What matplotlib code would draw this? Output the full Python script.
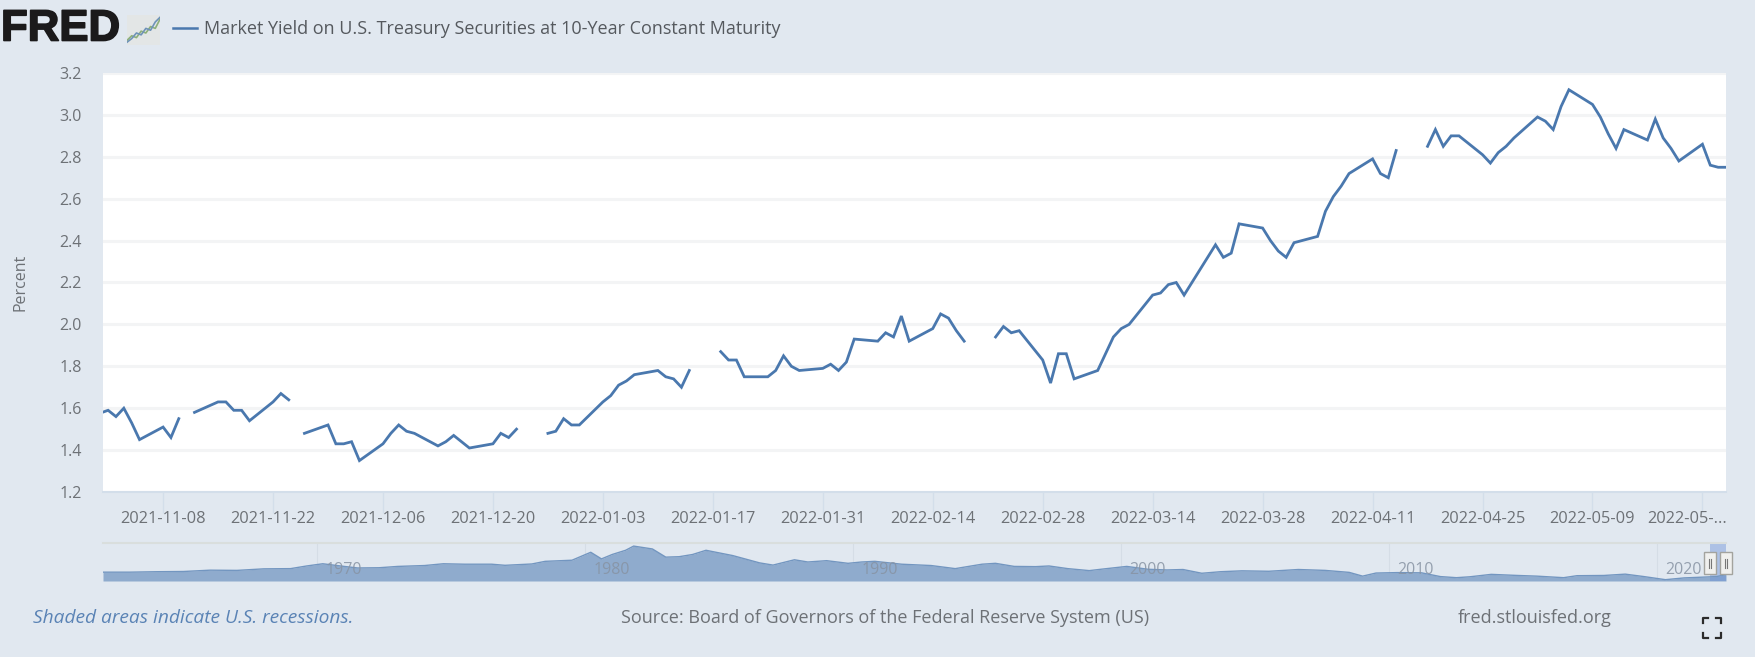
import numpy as np
import pandas as pd
import matplotlib.pyplot as plt
from matplotlib.patches import Rectangle
from matplotlib.lines import Line2D
from matplotlib.transforms import ScaledTranslation
import matplotlib.patheffects as pe

W, H = 1756, 657
nan = np.nan

# 10-year yield, one value per business day from 2021-10-29 to 2022-05-26, nan on market holidays
yields = [
    1.55,
    1.59, 1.56, 1.60, 1.53, 1.45,
    1.51, 1.46, 1.55, nan, 1.58,
    1.63, 1.63, 1.59, 1.59, 1.54,
    1.63, 1.67, 1.64, nan, 1.48,
    1.52, 1.43, 1.43, 1.44, 1.35,
    1.43, 1.48, 1.52, 1.49, 1.48,
    1.42, 1.44, 1.47, 1.44, 1.41,
    1.43, 1.48, 1.46, 1.50, nan,
    1.48, 1.49, 1.55, 1.52, 1.52,
    1.63, 1.66, 1.71, 1.73, 1.76,
    1.78, 1.75, 1.74, 1.70, 1.78,
    nan, 1.87, 1.83, 1.83, 1.75,
    1.75, 1.78, 1.85, 1.80, 1.78,
    1.79, 1.81, 1.78, 1.82, 1.93,
    1.92, 1.96, 1.94, 2.04, 1.92,
    1.98, 2.05, 2.03, 1.97, 1.92,
    nan, 1.94, 1.99, 1.96, 1.97,
    1.83, 1.72, 1.86, 1.86, 1.74,
    1.78, 1.86, 1.94, 1.98, 2.00,
    2.14, 2.15, 2.19, 2.20, 2.14,
    2.32, 2.38, 2.32, 2.34, 2.48,
    2.46, 2.40, 2.35, 2.32, 2.39,
    2.42, 2.54, 2.61, 2.66, 2.72,
    2.79, 2.72, 2.70, 2.83, nan,
    2.85, 2.93, 2.85, 2.90, 2.90,
    2.81, 2.77, 2.82, 2.85, 2.89,
    2.99, 2.97, 2.93, 3.04, 3.12,
    3.05, 2.99, 2.91, 2.84, 2.93,
    2.88, 2.98, 2.89, 2.84, 2.78,
    2.86, 2.76, 2.75, 2.75,
]
dates = pd.bdate_range("2021-10-29", "2022-05-26")

tick_dates = ["2021-11-08", "2021-11-22", "2021-12-06", "2021-12-20", "2022-01-03",
              "2022-01-17", "2022-01-31", "2022-02-14", "2022-02-28", "2022-03-14",
              "2022-03-28", "2022-04-11", "2022-04-25", "2022-05-09", "2022-05-23"]
tick_labels = tick_dates[:-1] + ["2022-05-..."]
y_ticks = [1.2, 1.4, 1.6, 1.8, 2.0, 2.2, 2.4, 2.6, 2.8, 3.0, 3.2]

# overview strip, whole history
hist_years = [1962, 1963, 1964, 1965, 1966, 1967, 1968, 1969, 1969.6, 1970.2, 1971, 1971.5, 1972.3,
              1973, 1974, 1974.7, 1975.5, 1976.5, 1977, 1978, 1978.5, 1979.5, 1980.2, 1980.6, 1981,
              1981.5, 1981.8, 1982.5, 1983, 1983.5, 1984, 1984.5, 1985.5, 1986.5, 1987, 1987.8,
              1988.3, 1989, 1989.8, 1990.3, 1990.8, 1991.8, 1992.9, 1993.8, 1994.8, 1995.3, 1996,
              1996.8, 1997.3, 1998, 1998.8, 1999.3, 2000.2, 2001, 2001.7, 2002.3, 2003, 2003.7,
              2004.5, 2005.5, 2006.6, 2007.6, 2008.5, 2009, 2009.5, 2010.3, 2011.2, 2011.9, 2012.5,
              2013, 2013.8, 2014.8, 2015.5, 2016.5, 2017, 2018, 2018.8, 2019.5, 2020.3, 2021, 2022.2, 2022.56]
hist_values = [4.0, 4.0, 4.2, 4.3, 4.9, 4.8, 5.5, 5.6, 6.8, 7.8, 6.6, 5.9, 6.0,
               6.6, 7.0, 7.8, 7.6, 7.6, 7.1, 7.7, 8.9, 9.4, 13.0, 10.0, 12.0,
               13.9, 15.8, 14.5, 10.8, 11.0, 12.0, 13.9, 11.5, 8.2, 7.2, 9.6,
               8.6, 9.2, 8.0, 8.6, 8.9, 7.6, 7.0, 5.6, 7.6, 8.0, 6.6,
               6.5, 6.8, 5.6, 4.7, 5.4, 6.6, 5.3, 5.0, 5.2, 3.5, 4.2,
               4.6, 4.4, 5.2, 4.8, 3.9, 2.2, 3.6, 3.8, 3.7, 2.0, 1.5,
               1.9, 3.0, 2.5, 2.2, 1.5, 2.4, 2.5, 3.1, 2.0, 0.6, 1.4, 2.0, 2.9]
decades = [1970, 1980, 1990, 2000, 2010, 2020]

# logo sparkline
logo_x = [0, 1, 2, 3, 4, 5, 6, 7]
logo_green = [1, 2, 1.6, 3, 2.6, 4, 3.6, 5.6]
logo_blue = [0.6, 1.4, 2.6, 2.2, 3.6, 3.2, 5, 6]

BG = "#e1e8f0"
BLUE = "#4a78ae"
TEXT = "#6d7176"
plt.rcParams["font.family"] = ["Open Sans", "DejaVu Sans"]


def fig_x(px):
    return px / W


def fig_y(py):
    return 1 - py / H


def box(left, top, right, bottom):
    return [fig_x(left), fig_y(bottom), (right - left) / W, (bottom - top) / H]


fig = plt.figure(figsize=(W / 100, H / 100), dpi=100, facecolor=BG)

# main chart
ax = fig.add_axes(box(103, 73, 1726, 492))
ax.plot(dates, yields, color=BLUE, lw=2, solid_joinstyle="miter")
ax.set_xlim(pd.Timestamp("2021-11-08") - pd.Timedelta(days=7.65), pd.Timestamp("2022-05-26"))
ax.set_ylim(1.2, 3.2)
ax.set_yticks(y_ticks)
ax.set_xticks(pd.to_datetime(tick_dates))
ax.set_xticklabels(tick_labels)
ax.grid(axis="y", color="#f3f4f5", lw=2.2)
ax.set_axisbelow(True)
for side in ["top", "right", "left"]:
    ax.spines[side].set_visible(False)
ax.spines["bottom"].set_color("#d3deea")
ax.spines["bottom"].set_linewidth(1.5)
ax.tick_params(axis="y", length=0, pad=15.5, labelsize=11.5, labelcolor=TEXT)
ax.tick_params(axis="x", length=15, width=1, color="#d3deea", pad=-1.5, labelsize=11.8, labelcolor=TEXT)
last = ax.get_xticklabels()[-1]
last.set_transform(last.get_transform() + ScaledTranslation(-0.15, 0, fig.dpi_scale_trans))
fig.text(fig_x(21), fig_y(282), "Percent", rotation=90, ha="center", va="center", fontsize=11.5, color=TEXT)

# overview strip
nav = fig.add_axes(box(103, 543, 1726, 581))
nav.patch.set_alpha(0)
nav.fill_between(hist_years, hist_values, 0, color="#8fabcd", lw=0)
nav.plot(hist_years, hist_values, color="#7396c0", lw=1)
nav.set_xlim(1962, 2022.56)
nav.set_ylim(0, 17.2)
nav.set_xticks([])
nav.set_yticks([])
for side in ["right", "left", "bottom"]:
    nav.spines[side].set_visible(False)
nav.spines["top"].set_color("#d9dedd")
nav.spines["top"].set_linewidth(1.5)
for d in decades:
    nav.axvline(d, color="#d5dde6", lw=0.8, zorder=0)
    nav.annotate(str(d), (d, 0), xytext=(6, 2), textcoords="offset points", fontsize=11.5,
                 color="#8793a3", alpha=0.85, ha="left", va="bottom")

# zoom window and its two handles
sel_left, sel_right = 2021.96, 2022.55
nav.axvspan(sel_left, sel_right, color="#6f93d8", alpha=0.45, lw=0)
for s in [sel_left, sel_right]:
    nav.add_patch(Rectangle((s - 0.22, 3.2), 0.44, 9.8, facecolor="#f0f0ee", edgecolor="#a3a39e",
                            lw=1, zorder=5, clip_on=False))
    nav.plot([s - 0.03, s - 0.03], [6, 10], color="#777777", lw=0.8, zorder=6, clip_on=False)
    nav.plot([s + 0.03, s + 0.03], [6, 10], color="#777777", lw=0.8, zorder=6, clip_on=False)

# header
fig.text(fig_x(1), fig_y(29), "FRED", fontsize=31.5, fontweight="bold", family="Liberation Sans",
         color="#1b1a1b", ha="left", va="center",
         path_effects=[pe.withStroke(linewidth=1.2, foreground="#1b1a1b")])
logo = fig.add_axes(box(127, 15, 160, 45))
logo.set_facecolor("#e3e6e6")
logo.plot(logo_x, logo_green, color="#8db07a", lw=1.2)
logo.plot(logo_x, logo_blue, color="#6f93b8", lw=1.2)
logo.set_xlim(0, 7)
logo.set_ylim(0, 6.5)
logo.set_xticks([])
logo.set_yticks([])
for side in logo.spines:
    logo.spines[side].set_visible(False)
fig.add_artist(Line2D([fig_x(173), fig_x(197)], [fig_y(28), fig_y(28)], color=BLUE, lw=1.8))
fig.text(fig_x(204), fig_y(29), "Market Yield on U.S. Treasury Securities at 10-Year Constant Maturity",
         fontsize=13, color="#55595e", ha="left", va="center")

# footer
fig.text(fig_x(33), fig_y(618), "Shaded areas indicate U.S. recessions.", fontsize=13.8, style="italic",
         color="#5a83b5", ha="left", va="center")
fig.text(fig_x(621), fig_y(618), "Source: Board of Governors of the Federal Reserve System (US)", fontsize=13,
         color=TEXT, ha="left", va="center")
fig.text(fig_x(1458), fig_y(618), "fred.stlouisfed.org", fontsize=13, color=TEXT, ha="left", va="center")

# fullscreen icon
for cx, cy, sx, sy in [(1703, 618, 1, 1), (1721, 618, -1, 1), (1703, 638, 1, -1), (1721, 638, -1, -1)]:
    fig.add_artist(Line2D([fig_x(cx), fig_x(cx), fig_x(cx + 5 * sx)],
                          [fig_y(cy + 5 * sy), fig_y(cy), fig_y(cy)], color="#2b2b2b", lw=1.6))

fig.savefig("out.png", dpi=100, facecolor=BG)
